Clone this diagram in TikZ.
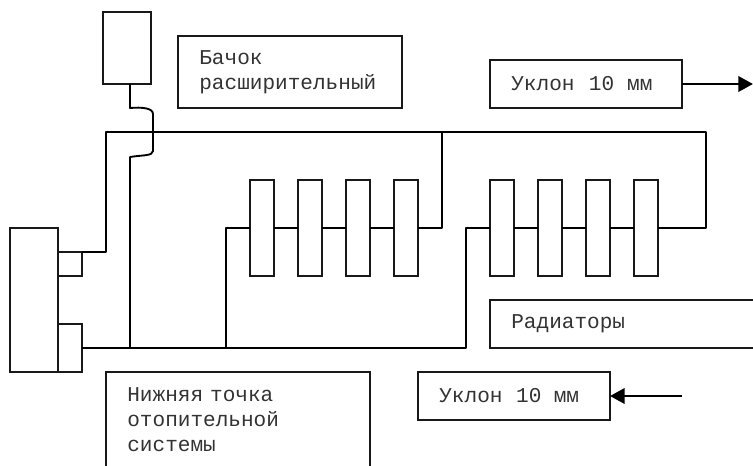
\documentclass[tikz,border=0pt]{standalone}
\usepackage{fontspec}
\setmainfont{Liberation Mono}
\usepackage{tikz}
\usetikzlibrary{arrows.meta,positioning}

\begin{document}
\begin{tikzpicture}[
                x=0.75pt, y=-0.75pt,
                every node/.style={outer sep=0pt, inner sep=0pt},
                unit/.style={draw=black!90, line width=1.4pt, anchor=north west},
                radiator/.style={unit, minimum width=18pt, minimum height=72pt},
                caption/.style={unit, align=left, inner xsep=15.75pt, text=black!80, font=\fontsize{15.8pt}{18.75pt}\selectfont},
                pipe/.style={draw=black, line width=1.4pt, line join=round},
                arrow/.style={-{Triangle[length=11pt,width=11.5pt]}, line width=2pt},
                node distance=18pt
            ]
            \useasboundingbox (0,0) rectangle (753,465);

            % tank and boiler
            \node[unit, minimum width=36pt, minimum height=54pt] (tank) at (103,12) {};
            \node[unit, minimum width=36pt, minimum height=108pt] (boiler) at (10,228) {};
            \node[unit, minimum width=18pt, minimum height=18pt] (upper) at (58,252) {};
            \node[unit, minimum width=18pt, minimum height=36pt] (lower) at (58,324) {};

            % radiators
            \node[radiator] (rad1) at (250,180) {};
            \node[radiator, right=of rad1] (rad2) {};
            \node[radiator, right=of rad2] (rad3) {};
            \node[radiator, right=of rad3] (rad4) {};
            \node[radiator] (rad5) at (490,180) {};
            \node[radiator, right=of rad5] (rad6) {};
            \node[radiator, right=of rad6] (rad7) {};
            \node[radiator, right=of rad7] (rad8) {};

            % captions
            \node[caption, minimum width=168pt, minimum height=54pt, text width=136pt] (tanklabel) at (178,36) {Бачок\\расширительный};
            \node[caption, minimum width=144pt, minimum height=36pt, text width=112pt] (slopetop) at (490,60) {Уклон\hspace{5.5pt} 10\hspace{4.5pt} мм};
            \node[caption, minimum width=210pt, minimum height=36pt, text width=178pt] (radlabel) at (490,300) {Радиаторы};
            \node[caption, minimum width=198pt, minimum height=72pt, text width=166pt] (lowlabel) at (106,372) {Нижняя точка\\отопительной\\системы};
            \node[caption, minimum width=144pt, minimum height=36pt, text width=112pt] (slopelow) at (418,372) {Уклон\hspace{5pt} 10\hspace{4pt} мм};

            \coordinate (tankpipe) at (130,84);
            \coordinate (bendin) at (130,108);
            \coordinate (bendout) at (130,157);
            \coordinate (tankend) at (130,348);
            \coordinate (riser) at (106,252);
            \coordinate (topleft) at (106,132);
            \coordinate (topright) at (706,132);
            \coordinate (returnright) at (706,228);
            \coordinate (tee) at (442,132);
            \coordinate (returnleft) at (442,228);
            \coordinate (feed1) at (226,348);
            \coordinate (feed1top) at (226,228);
            \coordinate (feed2) at (466,348);
            \coordinate (feed2top) at (466,228);
            \coordinate (arrowtop) at (753,84);
            \coordinate (arrowlow) at (682,396);

            % supply
            \draw[pipe] (upper.north east) -- (riser) -- (topleft) -- (topright) -- (returnright) -- (rad8.east);
            \draw[pipe] (tee) -- (returnleft) -- (rad4.east);
            \draw[pipe] (tankpipe) -- (bendin) .. controls (142,107) and (153,108) .. (153,114) -- (153,151) .. controls (153,156) and (142,155) .. (bendout) -- (tankend);

            % return
            \draw[pipe] (lower.east) -- (feed2) -- (feed2top) -- (rad5.west);
            \draw[pipe] (feed1) -- (feed1top) -- (rad1.west);

            \draw[pipe] (rad1) -- (rad2);
            \draw[pipe] (rad2) -- (rad3);
            \draw[pipe] (rad3) -- (rad4);
            \draw[pipe] (rad5) -- (rad6);
            \draw[pipe] (rad6) -- (rad7);
            \draw[pipe] (rad7) -- (rad8);

            \draw[arrow] (slopetop) -- (arrowtop);
            \draw[arrow] (arrowlow) -- (slopelow);

        \end{tikzpicture}
\end{document}
